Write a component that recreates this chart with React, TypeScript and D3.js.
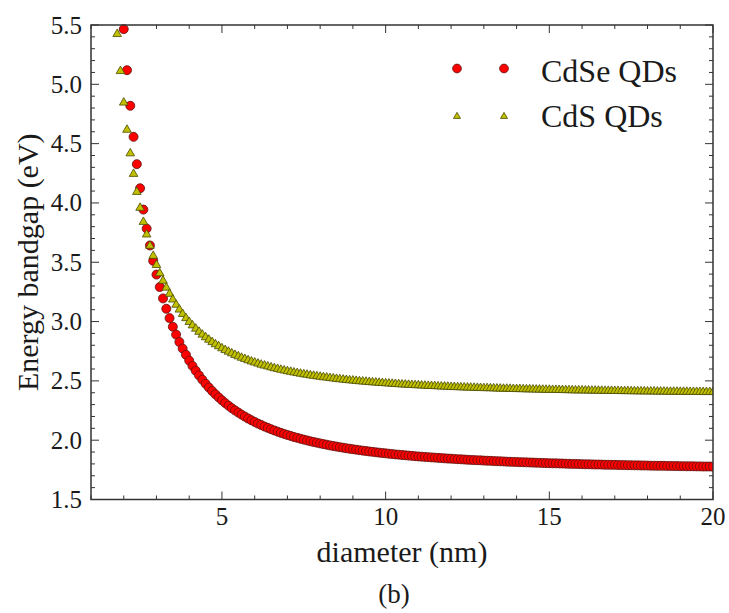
// Energy bandgap vs. quantum-dot diameter (revision 7, serif typography)
import React from "react";
import * as d3 from "d3";

const FONT = '"Liberation Serif"';
const RED = "#ff0000";
const OLIVE = "#c0c000";
const INK = "#1a1a1a";

const xMajorTicks = [5, 10, 15, 20];
const yMajorTicks = [1.5, 2.0, 2.5, 3.0, 3.5, 4.0, 4.5, 5.0, 5.5];
const seriesNames = ["CdSe QDs", "CdS QDs"];

const diameter = [
  1.8, 1.9, 2.0, 2.1, 2.2, 2.3, 2.4, 2.5, 2.6, 2.7, 2.8, 2.9, 3.0, 3.1, 3.2, 3.3, 3.4, 3.5, 3.6, 3.7, 3.8, 3.9, 4.0, 4.1,
  4.2, 4.3, 4.4, 4.5, 4.6, 4.7, 4.8, 4.9, 5.0,
  5.1, 5.2, 5.3, 5.4, 5.5, 5.6, 5.7, 5.8, 5.9, 6.0,
  6.1, 6.2, 6.3, 6.4, 6.5, 6.6, 6.7, 6.8, 6.9, 7.0,
  7.1, 7.2, 7.3, 7.4, 7.5, 7.6, 7.7, 7.8, 7.9, 8.0,
  8.1, 8.2, 8.3, 8.4, 8.5, 8.6, 8.7, 8.8, 8.9, 9.0,
  9.1, 9.2, 9.3, 9.4, 9.5, 9.6, 9.7, 9.8, 9.9, 10.0,
  10.1, 10.2, 10.3, 10.4, 10.5, 10.6, 10.7, 10.8, 10.9, 11.0,
  11.1, 11.2, 11.3, 11.4, 11.5, 11.6, 11.7, 11.8, 11.9, 12.0,
  12.1, 12.2, 12.3, 12.4, 12.5, 12.6, 12.7, 12.8, 12.9, 13.0,
  13.1, 13.2, 13.3, 13.4, 13.5, 13.6, 13.7, 13.8, 13.9, 14.0,
  14.1, 14.2, 14.3, 14.4, 14.5, 14.6, 14.7, 14.8, 14.9, 15.0,
  15.1, 15.2, 15.3, 15.4, 15.5, 15.6, 15.7, 15.8, 15.9, 16.0,
  16.1, 16.2, 16.3, 16.4, 16.5, 16.6, 16.7, 16.8, 16.9, 17.0,
  17.1, 17.2, 17.3, 17.4, 17.5, 17.6, 17.7, 17.8, 17.9, 18.0,
  18.1, 18.2, 18.3, 18.4, 18.5, 18.6, 18.7, 18.8, 18.9, 19.0,
  19.1, 19.2, 19.3, 19.4, 19.5, 19.6, 19.7, 19.8, 19.9, 20.0,
];

// CdS QDs, starting at diameter 1.8 nm
const cdsEnergy = [
  5.428, 5.116, 4.85, 4.621, 4.422, 4.249, 4.097, 3.963, 3.844, 3.738, 3.643, 3.558, 3.481, 3.411, 3.348, 3.29, 3.238, 3.19, 3.146, 3.105, 3.068, 3.033, 3.001, 2.972,
  2.944, 2.918, 2.894, 2.872, 2.851, 2.831, 2.813, 2.796, 2.779,
  2.764, 2.75, 2.736, 2.723, 2.711, 2.699, 2.689, 2.678, 2.668, 2.659,
  2.65, 2.641, 2.633, 2.626, 2.618, 2.611, 2.605, 2.598, 2.592, 2.586,
  2.581, 2.575, 2.57, 2.565, 2.56, 2.556, 2.551, 2.547, 2.543, 2.539,
  2.535, 2.532, 2.528, 2.525, 2.521, 2.518, 2.515, 2.512, 2.509, 2.507,
  2.504, 2.501, 2.499, 2.497, 2.494, 2.492, 2.49, 2.488, 2.486, 2.484,
  2.482, 2.48, 2.478, 2.476, 2.474, 2.473, 2.471, 2.47, 2.468, 2.467,
  2.465, 2.464, 2.462, 2.461, 2.46, 2.458, 2.457, 2.456, 2.455, 2.453,
  2.452, 2.451, 2.45, 2.449, 2.448, 2.447, 2.446, 2.445, 2.444, 2.443,
  2.443, 2.442, 2.441, 2.44, 2.439, 2.438, 2.438, 2.437, 2.436, 2.435,
  2.435, 2.434, 2.433, 2.433, 2.432, 2.431, 2.431, 2.43, 2.429, 2.429,
  2.428, 2.428, 2.427, 2.427, 2.426, 2.426, 2.425, 2.424, 2.424, 2.424,
  2.423, 2.423, 2.422, 2.422, 2.421, 2.421, 2.42, 2.42, 2.42, 2.419,
  2.419, 2.418, 2.418, 2.418, 2.417, 2.417, 2.416, 2.416, 2.416, 2.415,
  2.415, 2.415, 2.414, 2.414, 2.414, 2.413, 2.413, 2.413, 2.413, 2.412,
  2.412, 2.412, 2.411, 2.411, 2.411, 2.411, 2.41, 2.41, 2.41, 2.41,
];

// CdSe QDs, starting at diameter 2.0 nm
const cdseEnergy = [
  5.465, 5.119, 4.819, 4.557, 4.327, 4.124, 3.944, 3.784, 3.641, 3.512, 3.396, 3.291, 3.195, 3.108, 3.029, 2.956, 2.89, 2.828, 2.772, 2.72, 2.671, 2.626,
  2.585, 2.546, 2.51, 2.476, 2.444, 2.415, 2.387, 2.361, 2.336,
  2.313, 2.291, 2.27, 2.251, 2.233, 2.215, 2.199, 2.183, 2.168, 2.154,
  2.14, 2.128, 2.115, 2.104, 2.093, 2.082, 2.072, 2.062, 2.053, 2.044,
  2.036, 2.027, 2.02, 2.012, 2.005, 1.998, 1.991, 1.985, 1.979, 1.973,
  1.967, 1.962, 1.956, 1.951, 1.946, 1.941, 1.937, 1.932, 1.928, 1.924,
  1.92, 1.916, 1.912, 1.909, 1.905, 1.902, 1.898, 1.895, 1.892, 1.889,
  1.886, 1.883, 1.88, 1.878, 1.875, 1.873, 1.87, 1.868, 1.865, 1.863,
  1.861, 1.859, 1.857, 1.855, 1.853, 1.851, 1.849, 1.847, 1.845, 1.844,
  1.842, 1.84, 1.839, 1.837, 1.835, 1.834, 1.832, 1.831, 1.83, 1.828,
  1.827, 1.826, 1.824, 1.823, 1.822, 1.821, 1.819, 1.818, 1.817, 1.816,
  1.815, 1.814, 1.813, 1.812, 1.811, 1.81, 1.809, 1.808, 1.807, 1.806,
  1.805, 1.805, 1.804, 1.803, 1.802, 1.801, 1.8, 1.8, 1.799, 1.798,
  1.797, 1.797, 1.796, 1.795, 1.795, 1.794, 1.793, 1.793, 1.792, 1.792,
  1.791, 1.79, 1.79, 1.789, 1.789, 1.788, 1.788, 1.787, 1.787, 1.786,
  1.785, 1.785, 1.784, 1.784, 1.784, 1.783, 1.783, 1.782, 1.782, 1.781,
  1.781, 1.78, 1.78, 1.78, 1.779, 1.779, 1.778, 1.778, 1.778, 1.777,
];
const cdseDiameter = diameter.slice(2);

const W = 729;
const H = 613;
const M = { left: 91, right: 713, top: 25, bottom: 499.5 };

function triPath(cx: number, cy: number, s: number) {
  const h = s * 0.87;
  return `M${cx},${cy - h * 0.6}L${cx + s / 2},${cy + h * 0.4}L${cx - s / 2},${cy + h * 0.4}Z`;
}

function Label(props: { x: number; y: number; size: number; anchor?: string; transform?: string; children: React.ReactNode }) {
  return (
    <text
      x={props.x}
      y={props.y}
      transform={props.transform}
      fill={INK}
      textAnchor={props.anchor || "start"}
      style={{ fontFamily: FONT, fontSize: props.size }}
    >
      {props.children}
    </text>
  );
}

export default function App() {
  const x = d3.scaleLinear().domain([1, 20]).range([M.left, M.right]);
  const y = d3.scaleLinear().domain([1.5, 5.5]).range([M.bottom, M.top]);
  const xMinor = x.ticks(19);
  const yMinor = y.ticks(40);
  const major = 8;
  const minor = 4;
  const axisColor = "#333";

  return (
    <svg width={W} height={H} style={{ position: "absolute", left: 0, top: 0, background: "#fff" }}>
      <defs>
        <clipPath id="plot">
          <rect x={M.left} y={M.top - 1} width={M.right - M.left} height={M.bottom - M.top + 1} />
        </clipPath>
      </defs>
      <rect x={0} y={0} width={W} height={H} fill="#fff" />

      <g stroke={axisColor} strokeWidth={1}>
        {xMinor.map((t) => (
          <g key={"xm" + t}>
            <line x1={x(t)} x2={x(t)} y1={M.bottom} y2={M.bottom - (xMajorTicks.includes(t) ? major : minor)} />
            <line x1={x(t)} x2={x(t)} y1={M.top} y2={M.top + (xMajorTicks.includes(t) ? major : minor)} />
          </g>
        ))}
        {yMinor.map((t) => {
          const isMaj = yMajorTicks.some((v) => Math.abs(v - t) < 1e-6);
          return (
            <g key={"ym" + t}>
              <line x1={M.left} x2={M.left + (isMaj ? major : minor)} y1={y(t)} y2={y(t)} />
              <line x1={M.right} x2={M.right - (isMaj ? major : minor)} y1={y(t)} y2={y(t)} />
            </g>
          );
        })}
      </g>

      <g clipPath="url(#plot)">
        {cdseDiameter.map((d, i) => (
          <circle key={"se" + i} cx={x(d)} cy={y(cdseEnergy[i])} r={4.5} fill={RED} stroke="#5a1010" strokeWidth={0.8} />
        ))}
        {diameter.map((d, i) => (
          <path key={"s" + i} d={triPath(x(d), y(cdsEnergy[i]), 8.6)} fill={OLIVE} stroke="#4a4a00" strokeWidth={0.8} />
        ))}
      </g>

      <rect x={M.left} y={M.top} width={M.right - M.left} height={M.bottom - M.top} fill="none" stroke={axisColor} strokeWidth={1.5} />

      {xMajorTicks.map((t) => (
        <Label key={"xl" + t} x={x(t)} y={525} size={25} anchor="middle">{t}</Label>
      ))}
      {yMajorTicks.map((t) => (
        <Label key={"yl" + t} x={82} y={y(t) + 8.5} size={25} anchor="end">{t.toFixed(1)}</Label>
      ))}

      <Label x={(M.left + M.right) / 2} y={562} size={30} anchor="middle">diameter (nm)</Label>
      <Label x={0} y={0} transform={`translate(38,${(M.top + M.bottom) / 2}) rotate(-90)`} size={30} anchor="middle">Energy bandgap (eV)</Label>
      <Label x={394} y={603} size={27} anchor="middle">(b)</Label>

      <circle cx={457} cy={68.5} r={4.4} fill={RED} stroke="#5a1010" strokeWidth={0.8} />
      <circle cx={504} cy={68.5} r={4.4} fill={RED} stroke="#5a1010" strokeWidth={0.8} />
      <path d={triPath(457, 116, 7)} fill={OLIVE} stroke="#4a4a00" strokeWidth={0.8} />
      <path d={triPath(504, 116, 7)} fill={OLIVE} stroke="#4a4a00" strokeWidth={0.8} />
      <Label x={541} y={82} size={32}>{seriesNames[0]}</Label>
      <Label x={541} y={127} size={32}>{seriesNames[1]}</Label>
    </svg>
  );
}
